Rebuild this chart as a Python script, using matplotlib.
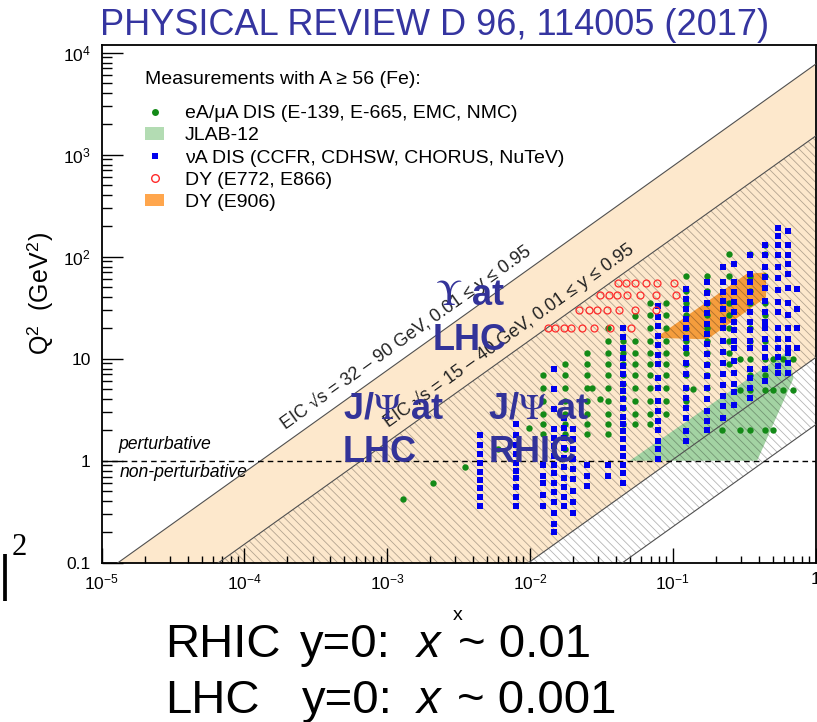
import numpy as np
import matplotlib
matplotlib.use('Agg')
import matplotlib.pyplot as plt
from matplotlib import ticker
from matplotlib.lines import Line2D
from matplotlib.patches import Patch, Polygon

plt.rcParams['font.family'] = ['Liberation Sans', 'DejaVu Sans']
plt.rcParams['mathtext.fontset'] = 'stix'
plt.rcParams['hatch.linewidth'] = 0.6

# EIC kinematic reach, Q2 = x * y * s
eic_wide_sqrts = [32, 90]
eic_narrow_sqrts = [15, 40]
y_range = [0.01, 0.95]

# eA/muA DIS (green dots): Q2 values per x column
dis_x = [0.00129, 0.0021, 0.0035, 0.0060, 0.0098, 0.0124, 0.0177, 0.0252, 0.0273,
         0.0311, 0.0354, 0.0451, 0.0547, 0.0697, 0.0902, 0.1245, 0.139, 0.1746,
         0.222, 0.249, 0.297, 0.349, 0.445, 0.506, 0.594, 0.698]
dis_q2 = [[0.42], [0.60], [0.86], [1.31], [2.1],
          [6.9, 5.15, 3.85, 2.88, 2.3, 1.84],
          [8.8, 6.9, 5.15, 3.85, 2.88, 2.3, 1.84, 1.31],
          [11.3, 8.8, 6.9, 5.15, 3.85, 2.88, 2.3, 1.84],
          [5.15],
          [4.0],
          [19.8, 14.8, 11.3, 8.8, 6.9, 5.15, 3.85, 2.88, 2.3, 1.84],
          [14.8, 11.3, 8.8, 6.9, 5.6, 4.1, 3.3, 2.3],
          [26, 14.8, 11.3, 8.8, 6.9, 5.15, 3.85, 2.88, 2.3],
          [35, 27, 19.8, 14.8, 11.3, 8.8, 6.9, 5.15, 3.85, 2.88, 2.3],
          [35, 27, 19.8, 14.8, 11.3, 8.8, 6.9, 5.15, 3.85, 2.88],
          [64, 46, 35, 27, 19.8, 14.8, 11.3, 8.8, 6.9, 5.15, 3.85],
          [5.0],
          [64, 46, 35, 27, 19.8, 14.8, 11.3, 8.8, 6.9, 5.15],
          [2.0],
          [106, 64, 35, 27, 19.8, 14.8, 11.3, 8.8],
          [9.9, 4.9, 2.0],
          [106, 64, 46, 35, 19.8, 14.8, 9.9, 6.9, 4.9, 2.0],
          [130, 106, 64, 35, 27, 14.8, 9.9, 6.9, 4.9, 2.0],
          [9.9, 4.9, 2.0],
          [9.9, 4.9],
          [9.9, 4.9]]

# nuA DIS (blue squares)
nu_x = [0.0045, 0.0080, 0.0124, 0.0148, 0.0174, 0.0201, 0.0252, 0.0354, 0.0451,
        0.0792, 0.1245, 0.1746, 0.226, 0.270, 0.350, 0.445, 0.548, 0.645, 0.745]
nu_q2 = [[1.8, 1.44, 1.17, 0.94, 0.78, 0.65, 0.54, 0.44, 0.36],
         [2.3, 1.8, 1.44, 1.17, 0.96, 0.8, 0.67, 0.55, 0.44, 0.36],
         [0.9, 0.71, 0.6, 0.46, 0.36],
         [7.9, 5.0, 3.2, 2.05, 1.67, 1.4, 1.12, 0.9, 0.75, 0.6, 0.49, 0.39, 0.31, 0.24, 0.2],
         [2.6, 2.1, 1.67, 1.34, 1.07, 0.86, 0.68, 0.55, 0.44, 0.36],
         [2.05, 1.64, 1.31, 1.04, 0.83, 0.66, 0.51, 0.39, 0.31],
         [0.9, 0.71, 0.57],
         [0.9, 0.71],
         [19.8, 16.2, 12.8, 10.1, 8.4, 7.0, 5.7, 4.8, 4.0, 3.3, 2.7, 2.3, 1.96, 1.64,
          1.34, 1.12, 0.9, 0.75, 0.6],
         [32.5, 25.9, 20.7, 16.6, 13.7, 10.9, 8.8, 6.4, 5.2, 3.85, 3.07, 2.45, 2.0,
          1.57, 1.3, 1.05],
         [48.6, 38.5, 30.9, 24.6, 19.8, 15.9, 12.7, 9.0, 7.0, 5.15, 4.1, 3.3, 2.6, 1.96, 1.57],
         [56, 44, 35, 28, 22, 17.5, 14, 11, 8.6, 6.8, 5.2, 4.0, 3.1, 2.45, 2.0],
         [80, 57, 45, 37, 31, 24, 19.8, 15, 11.6, 9, 7, 5.5, 4.3, 3.4, 2.6],
         [85, 57, 45, 36, 29, 23, 19, 15, 12.7, 9.5, 7.3, 5.6, 4.7, 3.5],
         [105, 68, 56, 45, 36, 29, 23, 19, 15, 12.7, 8, 6.5, 5.2, 4.1],
         [130, 105, 80, 63, 49, 37, 29, 23, 19.8, 15.5, 12.7, 10.3, 8.0, 6.0],
         [190, 160, 130, 105, 79, 62, 47, 36, 29, 19.8, 15.5, 12.7, 10.3, 8.5, 7.3],
         [180, 130, 105, 85, 68, 49, 35, 27, 19.8, 15.5, 12.7, 11.3, 9, 7.3],
         [48, 31, 19.8, 12.7]]

# DY E772/E866 (open red circles): one row of x per Q2
dy_q2 = [55, 42, 30, 20]
dy_x = [[0.0413, 0.0472, 0.0540, 0.0649, 0.0774, 0.1014],
        [0.0311, 0.0355, 0.0406, 0.0478, 0.0591, 0.0766, 0.1057],
        [0.0222, 0.0257, 0.0294, 0.0346, 0.0417, 0.0540, 0.0757],
        [0.0133, 0.0150, 0.0172, 0.0195, 0.0231, 0.0282, 0.0361, 0.0509]]

# JLAB-12 and E906 regions
jlab_x = [0.050, 0.39, 0.70, 0.65]
jlab_q2 = [1.0, 1.0, 6.4, 12.0]
e906_x = [0.076, 0.33, 0.45, 0.45, 0.175]
e906_q2 = [16, 68, 70, 40, 15.5]

x_ticks = [1e-5, 1e-4, 1e-3, 1e-2, 1e-1, 1]
x_labels = [r'$\mathdefault{10^{-5}}$', r'$\mathdefault{10^{-4}}$', r'$\mathdefault{10^{-3}}$',
            r'$\mathdefault{10^{-2}}$', r'$\mathdefault{10^{-1}}$', '1']
y_ticks = [0.1, 1, 10, 100, 1000, 10000]
y_labels = ['0.1', '1', '10', r'$\mathdefault{10^{2}}$', r'$\mathdefault{10^{3}}$',
            r'$\mathdefault{10^{4}}$']

green = '#138a17'
blue = '#0000ee'
red = '#ff2a2a'
navy = '#333399'

fig = plt.figure(figsize=(8.17, 7.22), dpi=100)
ax = fig.add_axes([0.1245, 0.2206, 0.8737, 0.7177])
ax.set_xscale('log')
ax.set_yscale('log')
ax.set_xlim(1e-5, 1)
ax.set_ylim(0.1, 1.2e4)

xb = np.array(ax.get_xlim())
s_w = np.array(eic_wide_sqrts) ** 2
s_n = np.array(eic_narrow_sqrts) ** 2
up_w = y_range[1] * s_w[1] * xb
lo_w = y_range[0] * s_w[0] * xb
up_n = y_range[1] * s_n[1] * xb
lo_n = y_range[0] * s_n[0] * xb

ax.fill_between(xb, lo_w, up_w, color='#fde8cc', lw=0, zorder=1)
ax.add_patch(Polygon(np.column_stack([jlab_x, jlab_q2]), closed=True,
                     fc='#a3d3a3', ec='none', zorder=2))
ax.add_patch(Polygon(np.column_stack([e906_x, e906_q2]), closed=True,
                     fc='#f59d3d', ec='none', zorder=2))
ax.fill_between(xb, lo_n, up_n, facecolor='none', edgecolor='#0000004a',
                hatch='\\\\\\\\', lw=0, zorder=3)
for q in (up_w, lo_w, up_n, lo_n):
    ax.plot(xb, q, color='#505050', lw=0.8, zorder=4)
ax.axhline(1, color='black', lw=1, dashes=(4, 3), zorder=4)

for x, qs in zip(dis_x, dis_q2):
    ax.plot([x] * len(qs), qs, 'o', color=green, ms=4.6, mew=0, zorder=5)
for x, qs in zip(nu_x, nu_q2):
    ax.plot([x] * len(qs), qs, 's', color=blue, ms=4.5, mew=0, zorder=5)
for q, xs in zip(dy_q2, dy_x):
    ax.plot(xs, [q] * len(xs), 'o', mfc='none', mec=red, ms=5, mew=0.9, zorder=5)

# axes styling
for sp in ax.spines.values():
    sp.set_linewidth(1.3)
ax.xaxis.set_major_locator(ticker.FixedLocator(x_ticks))
ax.xaxis.set_major_formatter(ticker.FixedFormatter(x_labels))
ax.yaxis.set_major_locator(ticker.FixedLocator(y_ticks))
ax.yaxis.set_major_formatter(ticker.FixedFormatter(y_labels))
ax.xaxis.set_minor_locator(ticker.LogLocator(subs=np.arange(2, 10), numticks=20))
ax.yaxis.set_minor_locator(ticker.LogLocator(subs=np.arange(2, 10), numticks=20))
ax.xaxis.set_minor_formatter(ticker.NullFormatter())
ax.yaxis.set_minor_formatter(ticker.NullFormatter())
ax.tick_params(which='both', direction='in', top=False, right=False, width=1, labelsize=12.5)
ax.tick_params(axis='x', which='major', length=10.8, pad=7)
ax.tick_params(axis='x', which='minor', length=5.4)
ax.tick_params(axis='y', which='major', length=15, pad=8)
ax.tick_params(axis='y', which='minor', length=7.5)

ax.text(-0.085, 0.52, r'Q$^{\mathdefault{2}}$  (GeV$^{\mathdefault{2}}$)', rotation=90,
        ha='center', va='center', fontsize=18, transform=ax.transAxes)

ax.text(1.3e-5, 1.30, 'perturbative', style='italic', fontsize=12.7, va='baseline')
ax.text(1.34e-5, 0.69, 'non-perturbative', style='italic', fontsize=12.7, va='baseline')

# EIC band labels along the lines
p1 = ax.transData.transform((1e-3, 1.0))
p2 = ax.transData.transform((1e-1, 100.0))
ang = np.degrees(np.arctan2(p2[1] - p1[1], p2[0] - p1[0]))
off = 5.0
dxo, dyo = -off * np.sin(np.radians(ang)), off * np.cos(np.radians(ang))
x1 = 2.15e-4
ax.annotate('EIC √s = 32 – 90 GeV, 0.01 ≤ y ≤ 0.95',
            xy=(x1, y_range[1] * s_w[1] * x1), xytext=(dxo, dyo), textcoords='offset points',
            rotation=ang, rotation_mode='anchor', ha='left', va='bottom', fontsize=13,
            color='#222222', zorder=6)
x2 = 1.13e-3
ax.annotate('EIC √s = 15 – 40 GeV, 0.01 ≤ y ≤ 0.95',
            xy=(x2, y_range[1] * s_n[1] * x2), xytext=(dxo, dyo), textcoords='offset points',
            rotation=ang, rotation_mode='anchor', ha='left', va='bottom', fontsize=13,
            color='#222222', zorder=6)

# big annotations
big = dict(fontsize=26, fontweight='bold', color=navy, transform=ax.transAxes,
           va='baseline', ha='left', zorder=7)
ax.text(0.467, 0.497, r'$\Upsilon$ at', **big)
ax.text(0.464, 0.4105, 'LHC', **big)
ax.text(0.338, 0.279, r'J/$\Psi$ at', **big)
ax.text(0.338, 0.194, 'LHC', **big)
ax.text(0.541, 0.279, r'J/$\Psi$ at', **big)
ax.text(0.5426, 0.194, 'RHIC', **big)

# legend
ax.text(0.0607, 0.9334, 'Measurements with A ≥ 56 (Fe):', fontsize=14, va='center',
        transform=ax.transAxes)
handles = [Line2D([], [], ls='none', marker='o', color=green, ms=5, mew=0),
           Patch(facecolor='#b3dcb3', edgecolor='none'),
           Line2D([], [], ls='none', marker='s', color=blue, ms=5, mew=0),
           Line2D([], [], ls='none', marker='o', mfc='none', mec=red, ms=5.5, mew=1),
           Patch(facecolor='#ffa64d', edgecolor='none')]
labels = ['eA/μA DIS (E-139, E-665, EMC, NMC)', 'JLAB-12',
          'νA DIS (CCFR, CDHSW, CHORUS, NuTeV)', 'DY (E772, E866)', 'DY (E906)']
ax.legend(handles, labels, loc='upper left', bbox_to_anchor=(0.0607, 0.8832),
          frameon=False, fontsize=14, handlelength=1.0, handleheight=0.62,
          handletextpad=1.05, labelspacing=0.26, borderpad=0, borderaxespad=0)

# text outside the axes
fig.text(0.532, 1 - 35 / 722, 'PHYSICAL REVIEW D 96, 114005 (2017)', fontsize=26,
         color='#3535a0', ha='center', va='baseline')
bot = dict(fontsize=34, va='baseline', ha='left')
fig.text(165 / 817, 1 - 657 / 722, 'RHIC', **bot)
fig.text(300 / 817, 1 - 657 / 722, 'y=0:', **bot)
fig.text(417 / 817, 1 - 657 / 722, 'x', style='italic', **bot)
fig.text(458 / 817, 1 - 657 / 722, '~ 0.01', **bot)
fig.text(165 / 817, 1 - 713 / 722, 'LHC', **bot)
fig.text(302 / 817, 1 - 713 / 722, 'y=0:', **bot)
fig.text(417 / 817, 1 - 713 / 722, 'x', style='italic', **bot)
fig.text(457 / 817, 1 - 713 / 722, '~ 0.001', **bot)
fig.text(458 / 817, 1 - 616 / 722, 'x', fontsize=14, ha='center', va='center')
fig.text(-0.004, 1 - 590 / 722, '|', fontsize=34, family='DejaVu Serif', va='baseline')
fig.text(12 / 817, 1 - 555 / 722, '2', fontsize=22, family='Liberation Serif', va='baseline')

fig.savefig('out.png', dpi=100)
